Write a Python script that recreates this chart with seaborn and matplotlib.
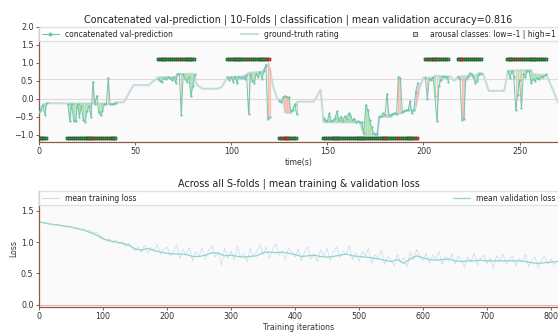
import numpy as np
import pandas as pd
import seaborn as sns
import matplotlib
matplotlib.use('Agg')
import matplotlib.pyplot as plt
from matplotlib.lines import Line2D

# ground-truth arousal rating (time in s, value)
gt_time = [0, 2, 5, 15, 36, 38, 40, 44, 46, 49, 57, 62, 71, 72, 80, 82, 85, 93, 95, 98,
           106, 109, 116, 119.5, 122, 124, 127, 128, 131, 133, 134.5, 143, 146.5, 148,
           167, 169, 176, 177, 183, 184, 189, 190, 195.5, 198, 200, 205, 206, 214, 216,
           218, 227, 229, 231, 234, 242, 244, 256, 257, 264, 267, 270]
gt_rating = [-0.4, -0.15, -0.12, -0.13, -0.13, -0.15, -0.1, -0.1, 0.08, 0.38, 0.38, 0.6,
             0.6, 0.68, 0.7, 0.4, 0.28, 0.28, 0.33, 0.6, 0.62, 0.72, 0.75, 0.98, 0.3, 0.0,
             -0.05, -0.38, -0.4, -0.2, -0.08, -0.08, 0.25, -0.65, -0.66, -1.0, -1.0, -0.5,
             -0.5, -0.42, -0.4, -0.33, -0.32, 0.3, 0.6, 0.58, 0.64, 0.62, 0.5, 0.62, 0.64,
             0.72, 0.7, 0.22, 0.22, 0.78, 0.8, 0.68, 0.66, 0.3, -0.1]

# validation folds: first second of each fold, one prediction per second
fold_start = [0, 15, 62, 98, 125, 148, 201, 218, 244]
fold_pred = [
    [-0.38, -0.3, -0.18, -0.44, -0.12],
    [-0.15, -0.63, -0.15, -0.63, -0.62, -0.15, -0.5, -0.2, -0.6, -0.64, -0.34, -0.2, -0.5,
     0.48, -0.15, 0.09, -0.38, -0.46, -0.35, -0.15, -0.15, 0.59, -0.15, -0.15, -0.14, -0.13],
    [0.55, 0.5, 0.48, 0.58, 0.55, 0.6, 0.58, 0.52, 0.6, 0.45, 0.68, 0.7, -0.46, 0.68, 0.55,
     0.48, 0.6, 0.07, 0.35, 0.68],
    [0.6, 0.53, 0.6, 0.48, 0.62, 0.44, 0.62, 0.58, 0.6, 0.55, 0.65, -0.42, 0.7, 0.5, 0.45,
     0.7, 0.6, 0.75, 0.55, 0.78, 0.95, -0.56, -0.51],
    [-0.05, -0.1, 0.05, 0.08, 0.05, 0.04, -0.35, -0.3, -0.15, -0.42],
    [-0.54, -0.6, -0.62, -0.4, -0.62, -0.6, -0.54, -0.35, -0.6, -0.5, -0.62, -0.49, -0.55,
     -0.4, -0.45, -0.6, -0.55, -0.64, -0.62, -0.66, -0.66, -0.95, -0.17, -0.3, -0.6, -0.8,
     -0.95, -0.98, -0.98, -0.5, -0.48, -0.4, -0.45, 0.14, -0.45, -0.45, -0.42, -0.4, -0.42,
     0.62, 0.57, -0.38, -0.35, -0.32, -0.32, -0.07, -0.4, -0.3, 0.2, 0.44],
    [0.57, 0.0, 0.55, 0.53, 0.6, 0.07, -0.63, 0.35, 0.53, 0.62, 0.6, 0.62, 0.48],
    [0.6, 0.55, -0.6, -0.55, 0.55, 0.6, 0.71, 0.68, 0.62, 0.44, 0.5, 0.68, 0.7],
    [0.78, 0.58, 0.78, 0.6, -0.31, 0.11, 0.53, -0.26, 0.7, 0.6, 0.78, 0.76, 0.44, 0.55, 0.5,
     0.58, 0.55, 0.6, 0.62, 0.65, 0.68],
]
class_threshold = 0.0
level_lines = [0.55, 0.0]
accuracy = 0.816

# losses
val_loss = [1.32, 1.30, 1.28, 1.27, 1.25, 1.24, 1.21, 1.19, 1.15, 1.11,
            1.05, 1.02, 1.00, 0.98, 0.95, 0.89, 0.87, 0.90, 0.86, 0.84,
            0.82, 0.81, 0.81, 0.80, 0.77, 0.77, 0.79, 0.83, 0.82, 0.78,
            0.79, 0.77, 0.76, 0.77, 0.78, 0.83, 0.84, 0.83, 0.84, 0.82,
            0.80, 0.77, 0.78, 0.79, 0.77, 0.76, 0.77, 0.79, 0.81, 0.78,
            0.77, 0.76, 0.75, 0.73, 0.71, 0.69, 0.72, 0.66, 0.73, 0.78,
            0.75, 0.72, 0.71, 0.72, 0.73, 0.70, 0.69, 0.70, 0.70, 0.71,
            0.70, 0.70, 0.70, 0.70, 0.70, 0.70, 0.69, 0.67, 0.66, 0.67,
            0.68, 0.69]
train_loss = [1.33, 1.31, 1.30, 1.29, 1.29, 1.27, 1.28, 1.26, 1.25, 1.26,
              1.24, 1.22, 1.23, 1.20, 1.21, 1.17, 1.19, 1.14, 1.16, 1.10,
              1.07, 1.02, 1.05, 0.99, 1.03, 0.97, 1.00, 0.93, 0.98, 0.92,
              0.86, 0.93, 0.84, 0.95, 0.82, 0.91, 0.87, 0.96, 0.80, 0.88,
              0.92, 0.78, 0.85, 0.95, 0.74, 0.88, 0.80, 0.91, 0.70, 0.85,
              0.78, 0.90, 0.72, 0.87, 0.94, 0.76, 0.85, 0.63, 0.90, 0.74,
              0.86, 0.71, 0.93, 0.75, 0.82, 0.68, 0.90, 0.77, 0.85, 0.96,
              0.80, 0.92, 0.74, 0.88, 0.97, 0.79, 0.86, 0.72, 0.91, 0.83,
              0.76, 0.89, 0.70, 0.84, 0.93, 0.73, 0.81, 0.69, 0.88, 0.78,
              0.90, 0.71, 0.84, 0.92, 0.75, 0.86, 0.80, 0.94, 0.72, 0.83,
              0.69, 0.85, 0.78, 0.90, 0.66, 0.80, 0.74, 0.87, 0.64, 0.77,
              0.71, 0.62, 0.80, 0.68, 0.75, 0.60, 0.84, 0.72, 0.88, 0.76,
              0.70, 0.82, 0.66, 0.79, 0.73, 0.85, 0.64, 0.77, 0.69, 0.81,
              0.65, 0.78, 0.72, 0.60, 0.76, 0.68, 0.83, 0.63, 0.74, 0.79,
              0.66, 0.75, 0.58, 0.78, 0.70, 0.81, 0.64, 0.73, 0.77, 0.62,
              0.74, 0.68, 0.80, 0.61, 0.72, 0.76, 0.59, 0.71, 0.78, 0.65,
              0.73, 0.64, 0.70]
val_iter = np.arange(len(val_loss)) * 10
train_iter = np.arange(len(train_loss)) * 5

TEAL = '#6fc6b3'
GT_C = '#c7dbe0'
GREEN_FILL = '#a9dca3'
RED_FILL = '#f9b4a0'
SPINE = '#8c5a4c'

sns.set_theme(style='white')
plt.rcParams['font.family'] = ['DejaVu Sans']
plt.rcParams['axes.unicode_minus'] = True

# build prediction table
rows = []
for k, (s, vals) in enumerate(zip(fold_start, fold_pred)):
    for i, v in enumerate(vals):
        rows.append({'fold': k, 't': s + i, 'pred': v})
pred = pd.DataFrame(rows)
pred['gt'] = np.interp(pred['t'], gt_time, gt_rating)
fold_high = pred.groupby('fold')['gt'].mean() > class_threshold
pred['high'] = pred['fold'].map(fold_high)
pred['correct'] = (pred['pred'] > class_threshold) == pred['high']
pred['class_y'] = np.where(pred['high'], 1.1, -1.1)

fig = plt.figure(figsize=(5.58, 3.33), dpi=100)
ax1 = fig.add_axes([0.07, 0.574, 0.93, 0.345])
ax2 = fig.add_axes([0.07, 0.079, 0.93, 0.347])

for ax in (ax1, ax2):
    ax.set_facecolor('#fafafa')
    for side in ('top', 'right'):
        ax.spines[side].set_visible(False)
    for side in ('left', 'bottom'):
        ax.spines[side].set_color(SPINE)
        ax.spines[side].set_linewidth(0.9)
    ax.tick_params(axis='both', labelsize=5.8, length=2.5, width=0.7, color=SPINE,
                   labelcolor='#333333', pad=1.5, bottom=True, left=True)

# ---- top panel ----
for y in level_lines:
    ax1.axhline(y, color='#e6d6d6', lw=0.8, zorder=1)
sns.lineplot(x=gt_time, y=gt_rating, ax=ax1, color=GT_C, lw=1.5, zorder=2)

for k, g in pred.groupby('fold'):
    ax1.fill_between(g['t'], g['gt'], g['pred'], where=g['correct'], color=GREEN_FILL,
                     alpha=0.55, lw=0, zorder=2)
    ax1.fill_between(g['t'], g['gt'], g['pred'], where=~g['correct'], color=RED_FILL,
                     alpha=0.6, lw=0, zorder=2)
ax1.vlines(pred['t'], pred['gt'], pred['pred'],
           colors=np.where(pred['correct'], GREEN_FILL, RED_FILL), lw=0.9, alpha=0.8, zorder=2)

sns.lineplot(data=pred, x='t', y='pred', units='fold', estimator=None, ax=ax1, color=TEAL,
             lw=0.7, marker='o', markersize=1.6, markeredgewidth=0, zorder=3)
sns.scatterplot(data=pred, x='t', y='class_y', hue='correct',
                palette={True: '#3aa84a', False: '#e0552d'}, marker='s', s=5,
                edgecolor='black', linewidth=0.3, ax=ax1, legend=False, zorder=4)

ax1.set_xlim(0, 270)
ax1.set_ylim(-1.2, 2.0)
ax1.set_xticks([0, 50, 100, 150, 200, 250])
ax1.set_yticks([-1.0, -0.5, 0.0, 0.5, 1.0, 1.5, 2.0])
ax1.set_xlabel('time(s)', fontsize=5.6, labelpad=1, color='#333333')
ax1.set_ylabel('')
ax1.set_title('Concatenated val-prediction | 10-Folds | classification | '
              'mean validation accuracy=%.3f' % accuracy, fontsize=6.9, pad=3, color='#222222')
h1 = [Line2D([], [], color=TEAL, lw=0.8, marker='o', markersize=1.8),
      Line2D([], [], color=GT_C, lw=1.5),
      Line2D([], [], color='none', marker='s', markersize=2.2, markerfacecolor='#d8d8d8',
             markeredgecolor='black', markeredgewidth=0.4)]
ax1.legend(h1, ['concatenated val-prediction', 'ground-truth rating',
                'arousal classes: low=-1 | high=1'],
           loc='upper left', bbox_to_anchor=(0, 1, 1, 0), mode='expand', ncol=3,
           borderaxespad=0, fontsize=5.5, frameon=True, fancybox=False,
           edgecolor='#dddddd', framealpha=0.85, handlelength=2.2, borderpad=0.35)

# ---- bottom panel ----
ax2.axhline(0, color='#e8b8b0', lw=0.8, zorder=1)
sns.lineplot(x=train_iter, y=train_loss, ax=ax2, color='#c3dcee', lw=0.5)
sns.lineplot(x=val_iter, y=val_loss, ax=ax2, color='#93d3c8', lw=0.9)
ax2.set_xlim(0, 811)
ax2.set_ylim(-0.03, 1.81)
ax2.set_xticks(range(0, 801, 100))
ax2.set_yticks([0.0, 0.5, 1.0, 1.5])
ax2.set_xlabel('Training iterations', fontsize=5.6, labelpad=1, color='#333333')
ax2.set_ylabel('Loss', fontsize=5.6, labelpad=2, color='#333333')
ax2.set_title('Across all S-folds | mean training & validation loss', fontsize=6.9, pad=3,
              color='#222222')
h2 = [Line2D([], [], color='#c3dcee', lw=0.8), Line2D([], [], color='#93d3c8', lw=0.9)]
ax2.legend(h2, ['mean training loss', 'mean validation loss'],
           loc='upper left', bbox_to_anchor=(0, 1, 1, 0), mode='expand', ncol=2,
           borderaxespad=0, fontsize=5.5, frameon=True, fancybox=False,
           edgecolor='#dddddd', framealpha=0.85, handlelength=2.2, borderpad=0.35)

fig.savefig('out.png', dpi=100, facecolor='white')
